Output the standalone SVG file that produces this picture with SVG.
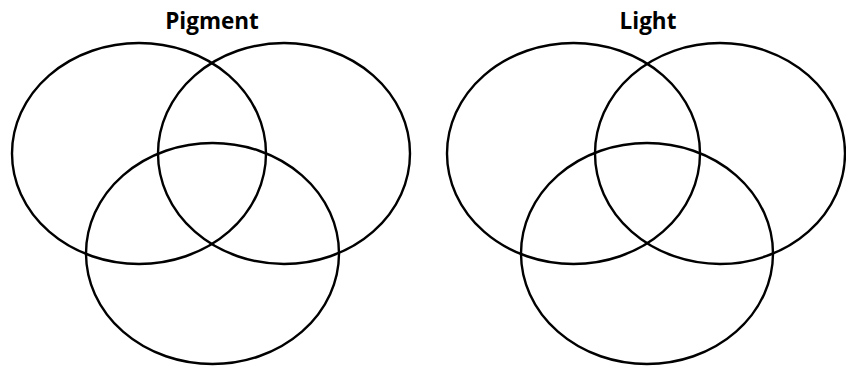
<svg xmlns="http://www.w3.org/2000/svg" width="846" height="366" viewBox="0 0 846 366">
<style>
.e{fill:none;stroke:#000;stroke-width:2.4}
.t{font-family:"Open Sans","Noto Sans",sans-serif;font-weight:bold;font-size:22.5px;fill:#000;text-anchor:middle}
</style>
<rect width="846" height="366" fill="#fff"/>
<g id="pigment">
<text class="t" x="212" y="28.5">Pigment</text>
<ellipse id="p1" class="e" cx="139" cy="153.5" rx="127" ry="110.5"/>
<ellipse id="p2" class="e" cx="284" cy="153.5" rx="126" ry="110.5"/>
<ellipse id="p3" class="e" cx="212.5" cy="253.5" rx="126.5" ry="110.5"/>
</g>
<g id="light">
<text class="t" x="648" y="28.5">Light</text>
<ellipse id="l1" class="e" cx="573.5" cy="153.5" rx="126.5" ry="110.5"/>
<ellipse id="l2" class="e" cx="720" cy="153.5" rx="125" ry="110.5"/>
<ellipse id="l3" class="e" cx="647" cy="253.5" rx="126" ry="110.5"/>
</g>
<g id="connectors"/>
</svg>
